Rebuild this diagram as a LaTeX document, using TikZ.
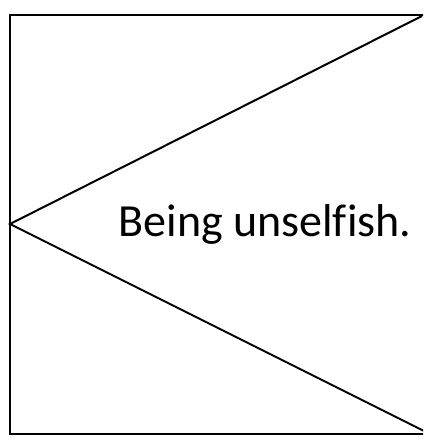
\documentclass[tikz,border=0pt]{standalone}
\usepackage{fontspec}
\setmainfont{Carlito}[Ligatures=NoCommon]
\begin{document}
\begin{tikzpicture}[x=1pt,y=-1pt,
  frame/.style={draw=black,line width=2.5pt},
  edge/.style={draw=black,line width=2pt},
  label/.style={font=\fontsize{46}{52}\selectfont,inner sep=0pt,anchor=base}]
\useasboundingbox (0,0) rectangle (423,441);
\begin{scope}
\clip (0,0) rectangle (423,441);
\draw[frame] (10,15) rectangle (426,434);
\coordinate (L) at (10,224);
\coordinate (TR) at (422,16);
\coordinate (BR) at (424,431);
\draw[edge] (TR) -- (L) -- (BR);
\end{scope}
\node[label] (t) at (265,236) {Being unselfish.};
\end{tikzpicture}
\end{document}
